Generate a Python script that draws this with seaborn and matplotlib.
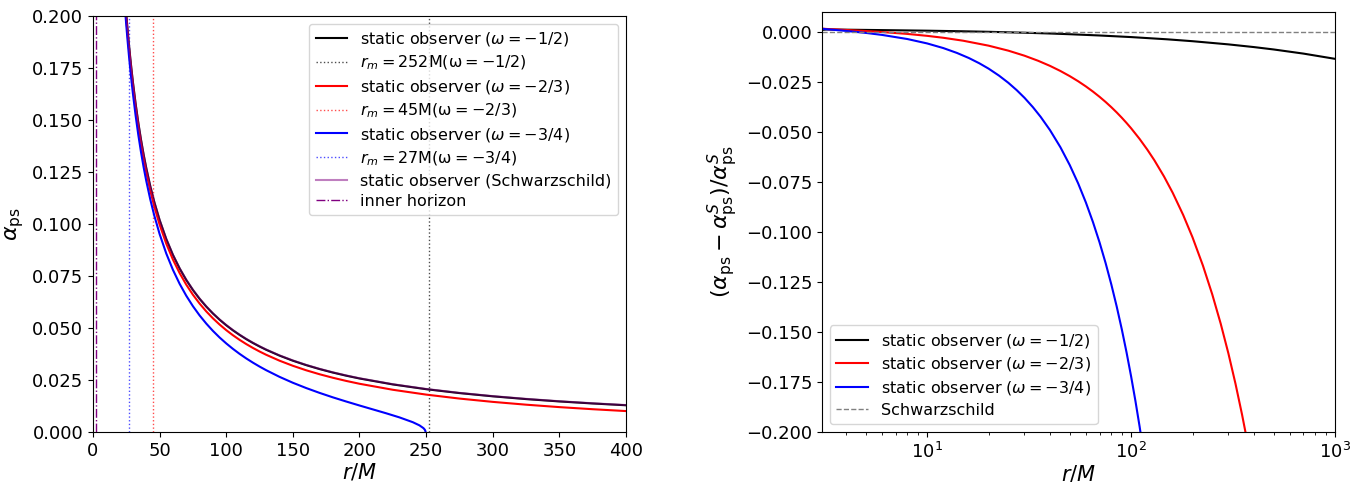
import matplotlib
matplotlib.use("Agg")
import matplotlib.pyplot as plt
import seaborn as sns

# ---------------- data ----------------
# left panel: photon-sphere angle alpha_ps vs r/M
r_left = [24, 25, 26, 27, 28, 29, 30, 32, 34, 36, 38, 40, 43, 46, 50, 55, 60, 65, 70,
          75, 80, 85, 90, 95, 100, 105, 110, 115, 120, 125, 130, 140, 150, 160, 170,
          180, 190, 200, 225, 250, 275, 300, 325, 350, 375, 400]
alpha_schw = [0.20880, 0.20070, 0.19321, 0.18626, 0.17979, 0.17376, 0.16812, 0.15788,
              0.14881, 0.14074, 0.13349, 0.12696, 0.11827, 0.11070, 0.10200, 0.09288,
              0.08525, 0.07878, 0.07323, 0.06841, 0.06418, 0.06045, 0.05712, 0.05414,
              0.05146, 0.04903, 0.04682, 0.04480, 0.04295, 0.04125, 0.03967, 0.03686,
              0.03442, 0.03228, 0.03039, 0.02871, 0.02721, 0.02585, 0.02299, 0.02070,
              0.01883, 0.01726, 0.01594, 0.01480, 0.01382, 0.01296]
alpha_w12 = [0.20878, 0.20068, 0.19318, 0.18622, 0.17975, 0.17371, 0.16806, 0.15781,
             0.14874, 0.14065, 0.13340, 0.12686, 0.11817, 0.11060, 0.10189, 0.09276,
             0.08513, 0.07866, 0.07310, 0.06828, 0.06405, 0.06032, 0.05699, 0.05401,
             0.05133, 0.04890, 0.04670, 0.04467, 0.04282, 0.04112, 0.03954, 0.03673,
             0.03429, 0.03216, 0.03027, 0.02859, 0.02709, 0.02574, 0.02288, 0.02059,
             0.01872, 0.01716, 0.01583, 0.01470, 0.01372, 0.01286]
alpha_w23 = [0.20696, 0.19883, 0.19131, 0.18433, 0.17784, 0.17179, 0.16613, 0.15585,
             0.14675, 0.13864, 0.13137, 0.12481, 0.11609, 0.10849, 0.09975, 0.09059,
             0.08293, 0.07644, 0.07086, 0.06601, 0.06177, 0.05801, 0.05467, 0.05168,
             0.04898, 0.04654, 0.04432, 0.04229, 0.04043, 0.03871, 0.03713, 0.03429,
             0.03184, 0.02968, 0.02778, 0.02609, 0.02457, 0.02320, 0.02031, 0.01799,
             0.01608, 0.01449, 0.01314, 0.01197, 0.01096, 0.01007]
r_left_w34 = [24, 25, 26, 27, 28, 29, 30, 32, 34, 36, 38, 40, 43, 46, 50, 55, 60, 65, 70,
              75, 80, 85, 90, 95, 100, 105, 110, 115, 120, 125, 130, 140, 150, 160, 170,
              180, 190, 200, 210, 220, 230, 240, 245, 248, 249, 249.5, 249.6]
alpha_w34 = [0.20380, 0.19561, 0.18802, 0.18098, 0.17442, 0.16831, 0.16259, 0.15219,
             0.14298, 0.13477, 0.12739, 0.12073, 0.11187, 0.10413, 0.09521, 0.08584,
             0.07798, 0.07129, 0.06553, 0.06050, 0.05607, 0.05215, 0.04863, 0.04546,
             0.04260, 0.03999, 0.03759, 0.03539, 0.03336, 0.03147, 0.02971, 0.02652,
             0.02368, 0.02114, 0.01882, 0.01667, 0.01467, 0.01275, 0.01088, 0.00901,
             0.00703, 0.00472, 0.00320, 0.00186, 0.00112, 0.00040, 0.0]
r_m_values = [252, 45, 27]
r_inner = 2.0

# right panel: relative deviation from Schwarzschild
r_right_w12 = [3.05, 3.2, 3.5, 4, 5, 6, 8, 10, 15, 20, 30, 40, 50, 70, 100, 150, 200,
               300, 400, 500, 700, 1000]
dev_w12 = [0.00103, 0.00126, 0.00124, 0.00116, 0.00104, 0.00095, 0.00079, 0.00066,
           0.00036, 0.00010, -0.00036, -0.00075, -0.00111, -0.00174, -0.00254, -0.00365,
           -0.00460, -0.00619, -0.00754, -0.00873, -0.01080, -0.01342]
r_right_w23 = [3.05, 3.2, 3.5, 4, 5, 6, 8, 10, 12, 15, 20, 25, 30, 35, 40, 45, 50, 55,
               60, 65, 70, 75, 80, 85, 90, 95, 100, 110, 120, 130, 145, 160, 180, 200,
               225, 250, 275, 300, 325, 350, 370, 400]
dev_w23 = [0.00172, 0.00153, 0.00131, 0.00101, 0.00049, 0.0, -0.00096, -0.00192,
           -0.00289, -0.00435, -0.00683, -0.00933, -0.01185, -0.01439, -0.01693, -0.01949,
           -0.02206, -0.02463, -0.02721, -0.0298, -0.0324, -0.035, -0.03761, -0.04023,
           -0.04286, -0.0455, -0.04814, -0.05345, -0.05879, -0.06413, -0.07225, -0.08044,
           -0.09148, -0.10265, -0.11682, -0.13122, -0.14586, -0.16076, -0.17592, -0.19137,
           -0.20395, -0.2232]
r_right_w34 = [3.05, 3.2, 3.5, 4, 5, 6, 8, 10, 12, 14, 16, 18, 20, 22.5, 25, 27.5, 30,
               33, 36, 40, 45, 50, 55, 60, 65, 70, 75, 80, 85, 90, 95, 100, 105, 110,
               115, 120]
dev_w34 = [0.00162, 0.00140, 0.00106, 0.00053, -0.00045, -0.00145, -0.00352, -0.00572,
           -0.00804, -0.01048, -0.013, -0.01562, -0.01831, -0.02181, -0.0254, -0.02911,
           -0.0329, -0.0376, -0.04242, -0.04904, -0.05761, -0.06652, -0.07572, -0.08524,
           -0.09506, -0.10517, -0.11559, -0.1263, -0.13732, -0.14864, -0.16029, -0.17224,
           -0.18453, -0.19714, -0.21013, -0.2234]
r_right_schw = [3.05, 1000]
dev_schw = [0.0, 0.0]

labels_obs = [r'static observer ($\omega=-1/2$)', r'static observer ($\omega=-2/3$)',
              r'static observer ($\omega=-3/4$)']
labels_rm = [r'$r_m=252$M(ω$=-1/2$)', r'$r_m=45$M(ω$=-2/3$)', r'$r_m=27$M(ω$=-3/4$)']
colors = ['black', 'red', 'blue']

# ---------------- figure ----------------
plt.rcParams['font.family'] = ['DejaVu Sans']
plt.rcParams['mathtext.fontset'] = 'dejavusans'
fig = plt.figure(figsize=(13.63, 4.82), dpi=100)
ax1 = fig.add_axes([0.0682, 0.1037, 0.3911, 0.8631])
ax2 = fig.add_axes([0.6031, 0.1037, 0.3764, 0.8714])

lw = 1.5
left_curves = [(r_left, alpha_w12), (r_left, alpha_w23), (r_left_w34, alpha_w34)]
for (xs, ys), c, lab, rm, labrm in zip(left_curves, colors, labels_obs, r_m_values, labels_rm):
    sns.lineplot(x=xs, y=ys, ax=ax1, color=c, lw=lw, label=lab, legend=False)
    ax1.axvline(rm, color=c, ls=':', lw=1, alpha=0.7, label=labrm)
sns.lineplot(x=r_left, y=alpha_schw, ax=ax1, color='purple', alpha=0.5, lw=lw,
             label='static observer (Schwarzschild)', legend=False)
ax1.axvline(r_inner, color='purple', ls='-.', lw=1, label='inner horizon')

ax1.set_xlim(0, 400)
ax1.set_ylim(0, 0.2)
ax1.set_yticks([0, 0.025, 0.05, 0.075, 0.1, 0.125, 0.15, 0.175, 0.2])
ax1.set_xlabel(r'$r/M$', fontsize=15, labelpad=1)
ax1.set_ylabel(r'$\alpha_{\rm ps}$', fontsize=16)
ax1.tick_params(labelsize=13)
ax1.legend(loc='upper right', fontsize=11.5, labelspacing=0.35)

right_curves = [(r_right_w12, dev_w12), (r_right_w23, dev_w23), (r_right_w34, dev_w34)]
for (xs, ys), c, lab in zip(right_curves, colors, labels_obs):
    sns.lineplot(x=xs, y=ys, ax=ax2, color=c, lw=lw, label=lab, legend=False)
sns.lineplot(x=r_right_schw, y=dev_schw, ax=ax2, color='gray', ls='--', lw=1,
             label='Schwarzschild', legend=False)
ax2.set_xscale('log')
ax2.set_xlim(3.05, 1000)
ax2.set_ylim(-0.2, 0.01)
ax2.set_yticks([-0.2, -0.175, -0.15, -0.125, -0.1, -0.075, -0.05, -0.025, 0.0])
ax2.set_xlabel(r'$r/M$', fontsize=15, labelpad=1)
ax2.set_ylabel(r'$(\alpha_{\rm ps}-\alpha^S_{\rm ps})/\alpha^S_{\rm ps}$', fontsize=16)
ax2.tick_params(labelsize=13)
ax2.legend(loc='lower left', fontsize=11.5, labelspacing=0.35)

fig.savefig('out.png', dpi=100)
